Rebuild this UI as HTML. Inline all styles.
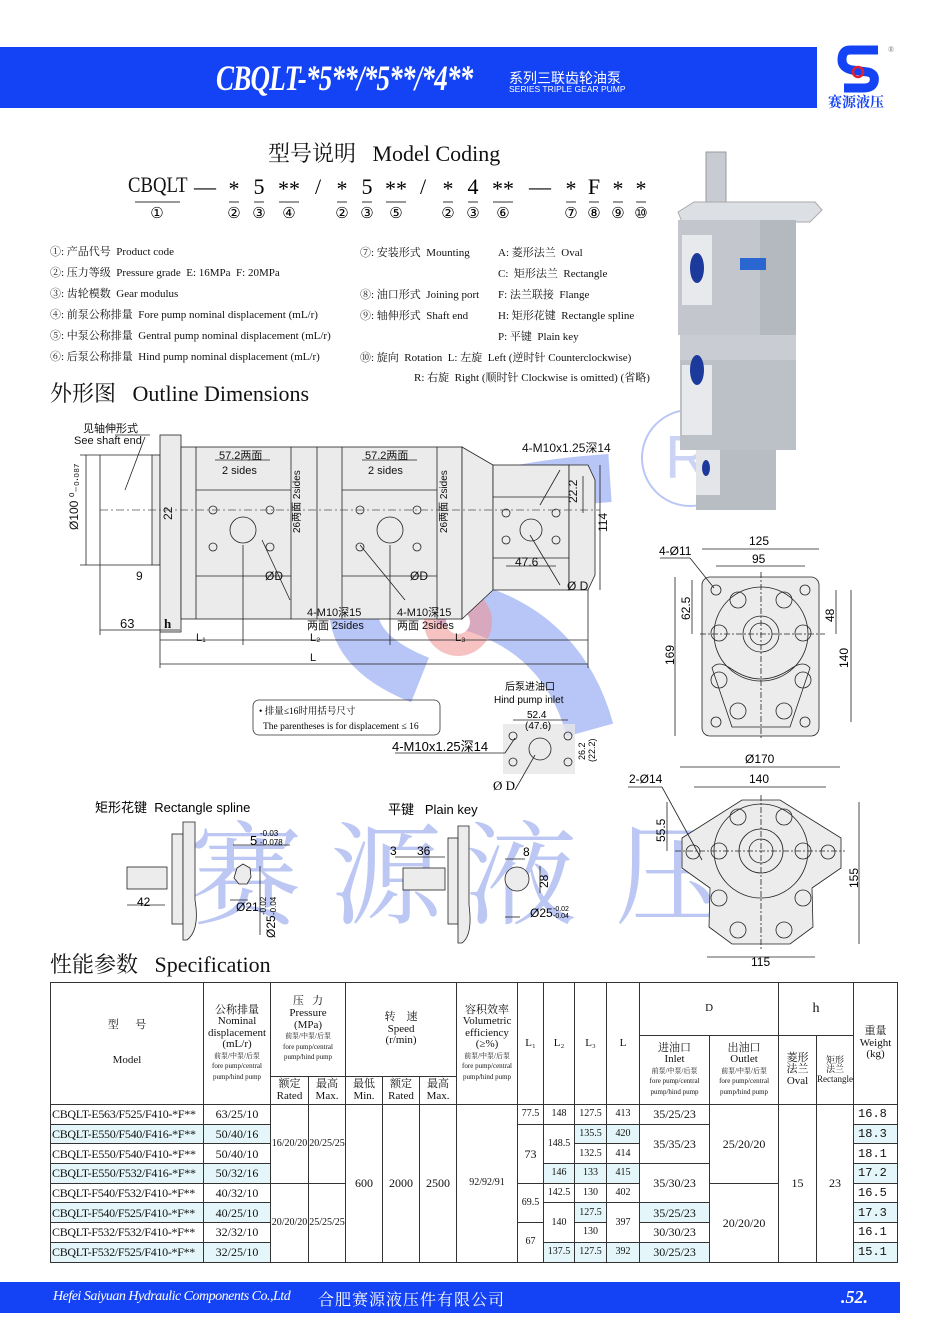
<!DOCTYPE html>
<html><head><meta charset="utf-8">
<style>
body{margin:0;background:#fff;}
#pg{position:relative;width:947px;height:1340px;overflow:hidden;background:#fff;font-family:"Liberation Serif","Noto Serif CJK SC",serif;color:#111;}
.a{position:absolute;white-space:nowrap;}
.s{font-family:"Liberation Sans","Noto Sans CJK SC",sans-serif;}
table{position:absolute;left:50px;top:982px;border-collapse:collapse;table-layout:fixed;width:847px;font-family:"Liberation Serif","Noto Serif CJK SC",serif;}
td{border:1px solid #333;padding:0;text-align:center;font-size:12px;line-height:1.05;overflow:hidden;white-space:nowrap;}
.h td{font-size:11px;}
.sm{font-size:7px;display:block;line-height:1.5;}
tr.r{height:19.7px;}
tr.r td{height:18.7px;font-size:12px;line-height:18px;}
td.m{text-align:left;font-size:10.5px;padding-left:1px;letter-spacing:-0.3px;}
td.w{font-size:15px;text-align:left;padding-left:4px;font-family:"Liberation Mono",monospace;}
.c{background:#e4f6f9;}
</style></head><body><div id="pg">

<!-- header -->
<div class="a" style="left:0;top:47px;width:817px;height:61px;background:#1443f5;"></div>
<div class="a" style="left:216px;top:57px;color:#fff;font-size:36px;font-style:italic;font-weight:bold;transform:scaleX(0.75);transform-origin:left;letter-spacing:-1px;">CBQLT-*5**/*5**/*4**</div>
<div class="a s" style="left:509px;top:68px;color:#fff;font-size:14px;">系列三联齿轮油泵</div>
<div class="a s" style="left:509px;top:84px;color:#fff;font-size:8.5px;">SERIES TRIPLE GEAR PUMP</div>
<svg class="a" style="left:830px;top:44px" width="70" height="50"><path d="M48 6 H20 Q12 6 12 16 Q12 24 22 26 L38 28 Q46 30 44 38 Q42 44 34 44 H14" fill="none" stroke="#1443f5" stroke-width="9"/><circle cx="28" cy="28" r="5" fill="none" stroke="#e02030" stroke-width="2.5"/><text x="58" y="8" font-size="8" fill="#777">®</text></svg>
<div class="a" style="left:828px;top:92px;color:#1443f5;font-size:14px;font-weight:bold;">赛源液压</div>

<!-- watermark -->
<svg class="a" style="left:0;top:0" width="947" height="1340">
<g opacity="0.33" fill="none" stroke="#2a55e8" stroke-width="48">
<path d="M610 478 Q430 490 370 560 Q320 640 420 680"/>
<path d="M440 600 Q560 620 590 730"/>
</g>
<circle cx="690" cy="458" r="48" fill="none" stroke="#8aa0f0" stroke-width="2" opacity="0.6"/>
<text x="665" y="478" font-size="60" fill="#a9b8f0" opacity="0.6" font-family="Liberation Sans">R</text>
<g fill="#f08f8f" opacity="0.55"><circle cx="458" cy="622" r="34"/></g><circle cx="458" cy="622" r="12" fill="#fff"/>
<g font-family="Noto Serif CJK SC,serif" font-size="112" fill="#bcc8f3"><text x="190" y="915">赛</text><text x="330" y="915">源</text><text x="465" y="915">液</text><text x="615" y="915">压</text></g>
</svg>

<!-- model coding -->
<div class="a" style="left:268px;top:137px;font-size:22px;">型号说明&nbsp;&nbsp;&nbsp;Model Coding</div>
<div class="a" style="left:128px;top:172px;font-size:22px;"><span style="display:inline-block;transform:scaleX(0.85);transform-origin:left">CBQLT</span></div>
<svg class="a" style="left:0;top:170px" width="680" height="55" font-family="Liberation Serif" font-size="22">
<g text-anchor="middle"><text x="205" y="24">—</text><text x="234" y="26">*</text><text x="259" y="24">5</text><text x="289" y="26">**</text><text x="318" y="24">/</text><text x="342" y="26">*</text><text x="367" y="24">5</text><text x="396" y="26">**</text><text x="423" y="24">/</text><text x="448" y="26">*</text><text x="473" y="24">4</text><text x="503" y="26">**</text><text x="540" y="24">—</text><text x="571" y="26">*</text><text x="594" y="24">F</text><text x="618" y="26">*</text><text x="641" y="26">*</text>
<g font-size="15"><text x="157" y="48">①</text><text x="234" y="48">②</text><text x="259" y="48">③</text><text x="289" y="48">④</text><text x="342" y="48">②</text><text x="367" y="48">③</text><text x="396" y="48">⑤</text><text x="448" y="48">②</text><text x="473" y="48">③</text><text x="503" y="48">⑥</text><text x="571" y="48">⑦</text><text x="594" y="48">⑧</text><text x="618" y="48">⑨</text><text x="641" y="48">⑩</text></g></g>
<g stroke="#333" stroke-width="1"><line x1="135" y1="32" x2="180" y2="32"/><line x1="229" y1="32" x2="239" y2="32"/><line x1="254" y1="32" x2="264" y2="32"/><line x1="279" y1="32" x2="299" y2="32"/><line x1="337" y1="32" x2="347" y2="32"/><line x1="362" y1="32" x2="372" y2="32"/><line x1="386" y1="32" x2="406" y2="32"/><line x1="443" y1="32" x2="453" y2="32"/><line x1="468" y1="32" x2="478" y2="32"/><line x1="493" y1="32" x2="513" y2="32"/><line x1="566" y1="32" x2="576" y2="32"/><line x1="589" y1="32" x2="599" y2="32"/><line x1="613" y1="32" x2="623" y2="32"/><line x1="636" y1="32" x2="646" y2="32"/></g>
</svg>
<div class="a" style="left:50px;top:242px;font-size:11px;line-height:21px;">①:&nbsp;产品代号&nbsp;&nbsp;Product code<br>②:&nbsp;压力等级&nbsp;&nbsp;Pressure grade&nbsp;&nbsp;E: 16MPa&nbsp;&nbsp;F: 20MPa<br>③:&nbsp;齿轮模数&nbsp;&nbsp;Gear modulus<br>④:&nbsp;前泵公称排量&nbsp;&nbsp;Fore pump nominal displacement (mL/r)<br>⑤:&nbsp;中泵公称排量&nbsp;&nbsp;Gentral pump nominal displacement (mL/r)<br>⑥:&nbsp;后泵公称排量&nbsp;&nbsp;Hind pump nominal displacement (mL/r)</div>
<div class="a" style="left:360px;top:243px;font-size:11px;line-height:21px;">⑦:&nbsp;安装形式&nbsp;&nbsp;Mounting<br><br>⑧:&nbsp;油口形式&nbsp;&nbsp;Joining port<br>⑨:&nbsp;轴伸形式&nbsp;&nbsp;Shaft end<br><br>⑩:&nbsp;旋向&nbsp;&nbsp;Rotation&nbsp;&nbsp;L:&nbsp;左旋&nbsp;&nbsp;Left (逆时针 Counterclockwise)</div>
<div class="a" style="left:498px;top:243px;font-size:11px;line-height:21px;">A:&nbsp;菱形法兰&nbsp;&nbsp;Oval<br>C:&nbsp;&nbsp;矩形法兰&nbsp;&nbsp;Rectangle<br>F:&nbsp;法兰联接&nbsp;&nbsp;Flange<br>H:&nbsp;矩形花键&nbsp;&nbsp;Rectangle spline<br>P:&nbsp;平键&nbsp;&nbsp;Plain key</div>
<div class="a" style="left:414px;top:369px;font-size:11px;">R:&nbsp;右旋&nbsp;&nbsp;Right (顺时针 Clockwise is omitted) (省略)</div>
<div class="a" style="left:50px;top:377px;font-size:22px;">外形图&nbsp;&nbsp;&nbsp;Outline Dimensions</div>

<!-- pump photo -->
<svg class="a" style="left:670px;top:150px" width="160" height="365">
<rect x="36" y="2" width="20" height="52" fill="#c8ccd2" stroke="#999"/>
<path d="M8 62 L24 52 H145 L152 60 L140 72 H12 Z" fill="#dcdfe4" stroke="#aaa"/>
<rect x="8" y="70" width="118" height="115" fill="#c3c7cd"/>
<rect x="90" y="70" width="36" height="115" fill="#b4b8bf"/>
<rect x="12" y="85" width="30" height="70" fill="#e8e9ec"/>
<ellipse cx="27" cy="118" rx="7" ry="15" fill="#1c3a9c"/>
<rect x="70" y="108" width="26" height="12" fill="#2a66d0"/>
<rect x="10" y="185" width="116" height="25" fill="#c9ccd2"/>
<rect x="10" y="210" width="116" height="90" fill="#bcc0c7"/>
<rect x="12" y="215" width="30" height="70" fill="#e8e9ec"/>
<ellipse cx="27" cy="220" rx="7" ry="15" fill="#1c3a9c"/>
<rect x="26" y="300" width="80" height="60" fill="#b8bcc3"/>
<rect x="26" y="300" width="24" height="45" fill="#e4e5e8"/>
<ellipse cx="36" cy="318" rx="4" ry="8" fill="#1c3a9c"/>
</svg>

<!-- main outline drawing -->
<svg class="a" style="left:0;top:0" width="947" height="1340" font-family="Liberation Sans,Noto Sans CJK SC,sans-serif" font-size="11" stroke-width="0.8">
<g fill="#ebebeb" stroke="#222">
<rect x="152" y="455" width="8" height="110"/>
<rect x="160" y="435" width="21" height="197"/>
<rect x="181" y="447" width="281" height="172"/>
<path d="M462 447 L493 465 V590 L462 619 Z"/>
<rect x="493" y="465" width="76" height="125"/>
<path d="M569 465 H588 L595 480 V575 L588 590 H569 Z"/>
</g>
<g stroke="#222" fill="none">
<line x1="196" y1="447" x2="196" y2="619"/><line x1="291" y1="447" x2="291" y2="619"/><line x1="317" y1="447" x2="317" y2="619"/><line x1="342" y1="447" x2="342" y2="619"/><line x1="437" y1="447" x2="437" y2="619"/>
<line x1="196" y1="490" x2="291" y2="490"/><line x1="196" y1="576" x2="291" y2="576"/><line x1="342" y1="490" x2="437" y2="490"/><line x1="342" y1="576" x2="437" y2="576"/>
<line x1="493" y1="497" x2="569" y2="497"/><line x1="493" y1="558" x2="569" y2="558"/>
<circle cx="243" cy="530" r="13"/><circle cx="390" cy="530" r="13"/><circle cx="531" cy="530" r="11"/>
<g><circle cx="213" cy="510" r="4"/><circle cx="270" cy="510" r="4"/><circle cx="213" cy="547" r="4"/><circle cx="270" cy="547" r="4"/><circle cx="360" cy="510" r="4"/><circle cx="417" cy="510" r="4"/><circle cx="360" cy="547" r="4"/><circle cx="417" cy="547" r="4"/><circle cx="506" cy="513" r="4"/><circle cx="556" cy="513" r="4"/><circle cx="506" cy="540" r="4"/><circle cx="556" cy="540" r="4"/></g>
<line x1="100" y1="510" x2="600" y2="510" stroke-dasharray="8 3 2 3" stroke="#555"/>
<line x1="160" y1="640" x2="588" y2="640"/><line x1="160" y1="664" x2="588" y2="664"/><line x1="100" y1="630" x2="180" y2="630"/>
<line x1="100" y1="455" x2="100" y2="635"/><line x1="80" y1="455" x2="152" y2="455"/><line x1="80" y1="565" x2="152" y2="565"/><line x1="86" y1="455" x2="86" y2="565"/>
<line x1="160" y1="632" x2="160" y2="668"/><line x1="243" y1="545" x2="243" y2="645"/><line x1="390" y1="545" x2="390" y2="645"/><line x1="588" y1="590" x2="588" y2="668"/>
<line x1="600" y1="465" x2="600" y2="590"/><line x1="583" y1="476" x2="583" y2="513"/>
<line x1="215" y1="460" x2="270" y2="460"/><line x1="362" y1="460" x2="417" y2="460"/><line x1="506" y1="566" x2="556" y2="566"/>
<line x1="290" y1="600" x2="262" y2="540"/><line x1="405" y1="600" x2="360" y2="545"/><line x1="560" y1="585" x2="530" y2="535"/><line x1="560" y1="470" x2="540" y2="505"/>
<line x1="115" y1="435" x2="150" y2="435"/><line x1="145" y1="437" x2="125" y2="490"/>
</g>
<g fill="#111">
<text x="83" y="432">见轴伸形式</text><text x="74" y="444">See shaft end</text>
<text x="219" y="459">57.2两面</text><text x="222" y="474">2 sides</text>
<text x="365" y="459">57.2两面</text><text x="368" y="474">2 sides</text>
<text x="522" y="452" font-size="12">4-M10x1.25深14</text>
<text x="515" y="566" font-size="12">47.6</text>
<text x="265" y="580" font-size="12">ØD</text><text x="410" y="580" font-size="12">ØD</text><text x="567" y="590" font-size="12">Ø D</text>
<text x="307" y="616">4-M10深15</text><text x="307" y="629">两面 2sides</text><text x="397" y="616">4-M10深15</text><text x="397" y="629">两面 2sides</text>
<text x="136" y="580" font-size="12">9</text><text x="120" y="628" font-size="13">63</text><text x="164" y="628" font-size="13" font-family="Liberation Serif" font-weight="bold">h</text>
<text x="196" y="641">L₁</text><text x="310" y="641">L₂</text><text x="455" y="641">L₃</text><text x="310" y="661">L</text>
<text transform="translate(78,530) rotate(-90)" font-size="12">Ø100 ⁰₋₀.₀₈₇</text>
<text transform="translate(172,520) rotate(-90)" font-size="12">22</text>
<text transform="translate(300,533) rotate(-90)" font-size="10">26两面 2sides</text>
<text transform="translate(447,533) rotate(-90)" font-size="10">26两面 2sides</text>
<text transform="translate(577,503) rotate(-90)" font-size="12">22.2</text>
<text transform="translate(607,532) rotate(-90)" font-size="12">114</text>
</g>

<!-- note box & hind inlet -->
<rect x="253" y="700" width="187" height="35" rx="6" fill="none" stroke="#333"/>
<text x="259" y="714" font-size="9.5" font-family="Liberation Serif,Noto Serif CJK SC">• 排量≤16时用括号尺寸</text>
<text x="263" y="729" font-size="9.5" font-family="Liberation Serif">The parentheses is for displacement ≤ 16</text>
<text x="505" y="690" font-size="10">后泵进油口</text><text x="494" y="703" font-size="10">Hind pump inlet</text>
<rect x="503" y="724" width="72" height="50" fill="#e6e6e6" opacity="0.8"/>
<g stroke="#222" fill="none"><circle cx="540" cy="749" r="11"/><circle cx="513" cy="736" r="4"/><circle cx="568" cy="736" r="4"/><circle cx="513" cy="762" r="4"/><circle cx="568" cy="762" r="4"/><line x1="395" y1="753" x2="505" y2="753"/><line x1="505" y1="753" x2="515" y2="738"/><line x1="515" y1="790" x2="535" y2="755"/><line x1="513" y1="720" x2="568" y2="720"/></g>
<text x="527" y="718" font-size="10">52.4</text><text x="525" y="729" font-size="10">(47.6)</text>
<text x="392" y="751" font-size="13">4-M10x1.25深14</text>
<text x="493" y="790" font-size="13" font-family="Liberation Serif">Ø D</text>
<text transform="translate(585,760) rotate(-90)" font-size="9">26.2</text><text transform="translate(595,762) rotate(-90)" font-size="9">(22.2)</text>

<!-- rectangle flange -->
<rect x="702" y="577" width="117" height="159" rx="8" fill="#ececec" stroke="#222"/>
<g stroke="#222" fill="none">
<circle cx="761" cy="634" r="47"/><circle cx="761" cy="634" r="18"/><circle cx="761" cy="634" r="11"/>
<path d="M712 668 Q718 660 730 668 Q761 690 792 668 Q804 660 810 668 L790 727 H732 Z"/>
<g><circle cx="738" cy="600" r="8"/><circle cx="784" cy="600" r="8"/><circle cx="719" cy="633" r="8"/><circle cx="803" cy="633" r="8"/><circle cx="719" cy="680" r="8"/><circle cx="803" cy="680" r="8"/><circle cx="738" cy="711" r="8"/><circle cx="784" cy="711" r="8"/><circle cx="716" cy="590" r="5"/><circle cx="805" cy="590" r="5"/><circle cx="716" cy="722" r="5"/><circle cx="805" cy="722" r="5"/></g>
<line x1="702" y1="549" x2="819" y2="549"/><line x1="716" y1="566" x2="805" y2="566"/><line x1="675" y1="577" x2="675" y2="736"/><line x1="692" y1="580" x2="692" y2="634"/><line x1="836" y1="590" x2="836" y2="634"/><line x1="851" y1="590" x2="851" y2="722"/>
<line x1="761" y1="572" x2="761" y2="740" stroke-dasharray="6 2 2 2"/><line x1="700" y1="634" x2="825" y2="634" stroke-dasharray="6 2 2 2"/>
<line x1="660" y1="558" x2="690" y2="558"/><line x1="690" y1="558" x2="714" y2="588"/>
</g>
<text x="749" y="545" font-size="12">125</text><text x="752" y="563" font-size="12">95</text><text x="659" y="555" font-size="12">4-Ø11</text>
<text transform="translate(690,620) rotate(-90)" font-size="12">62.5</text><text transform="translate(834,622) rotate(-90)" font-size="12">48</text>
<text transform="translate(674,665) rotate(-90)" font-size="12">169</text><text transform="translate(848,668) rotate(-90)" font-size="12">140</text>

<!-- round/oval flange -->
<g stroke="#222"><path d="M682 838 L742 800 H780 L841 838 V868 L812 888 L813 927 L790 944 H732 L709 927 L710 888 L682 868 Z" fill="#ececec"/>
<g fill="none"><circle cx="761" cy="851" r="47"/><circle cx="761" cy="851" r="22"/><circle cx="761" cy="851" r="12"/>
<g><circle cx="738" cy="817" r="8"/><circle cx="784" cy="817" r="8"/><circle cx="719" cy="851" r="8"/><circle cx="803" cy="851" r="8"/><circle cx="719" cy="898" r="8"/><circle cx="803" cy="898" r="8"/><circle cx="738" cy="930" r="8"/><circle cx="784" cy="930" r="8"/><circle cx="693" cy="852" r="7"/><circle cx="828" cy="852" r="7"/></g>
<line x1="680" y1="767" x2="840" y2="767"/><line x1="694" y1="787" x2="826" y2="787"/><line x1="707" y1="957" x2="815" y2="957"/><line x1="859" y1="802" x2="859" y2="944"/><line x1="667" y1="802" x2="667" y2="851"/>
<line x1="761" y1="795" x2="761" y2="950" stroke-dasharray="6 2 2 2"/><line x1="675" y1="851" x2="845" y2="851" stroke-dasharray="6 2 2 2"/>
<line x1="628" y1="787" x2="662" y2="787"/><line x1="662" y1="787" x2="702" y2="860"/></g></g>
<text x="745" y="763" font-size="12">Ø170</text><text x="749" y="783" font-size="12">140</text><text x="629" y="783" font-size="12">2-Ø14</text><text x="751" y="966" font-size="12">115</text>
<text transform="translate(665,842) rotate(-90)" font-size="12">55.5</text><text transform="translate(858,888) rotate(-90)" font-size="12">155</text>

<!-- shaft ends -->
<text x="95" y="812" font-size="13">矩形花键&nbsp;&nbsp;Rectangle spline</text>
<text x="388" y="814" font-size="13">平键&nbsp;&nbsp;&nbsp;Plain key</text>
<g stroke="#222" fill="#ececec">
<rect x="127" y="867" width="40" height="22"/><rect x="172" y="834" width="11" height="90"/><path d="M183 822 H195 V900 Q200 930 187 940 H183 Z"/>
<rect x="403" y="868" width="42" height="22"/><rect x="448" y="838" width="10" height="86"/><path d="M458 826 H469 V905 Q473 935 462 943 H458 Z"/>
<circle cx="517" cy="879" r="12"/><path d="M237 868 L243 864 L250 868 L251 877 L247 884 L239 884 L234 878 Z"/>
</g>
<g stroke="#222" fill="none"><line x1="127" y1="905" x2="165" y2="905"/><line x1="233" y1="845" x2="290" y2="845"/><line x1="230" y1="900" x2="248" y2="900"/><line x1="260" y1="866" x2="260" y2="935"/><line x1="395" y1="857" x2="445" y2="857"/><line x1="505" y1="859" x2="525" y2="859"/><line x1="540" y1="866" x2="540" y2="893"/><line x1="505" y1="917" x2="520" y2="917"/></g>
<text x="137" y="906" font-size="12">42</text><text x="250" y="845" font-size="13">5</text><text x="260" y="836" font-size="8">-0.03</text><text x="260" y="845" font-size="8">-0.078</text>
<text x="236" y="911" font-size="12">Ø21</text><text transform="translate(275,938) rotate(-90)" font-size="12">Ø25</text><text transform="translate(266,915) rotate(-90)" font-size="8">-0.02</text><text transform="translate(276,915) rotate(-90)" font-size="8">-0.04</text>
<text x="390" y="855" font-size="12">3</text><text x="417" y="855" font-size="12">36</text><text x="523" y="856" font-size="12">8</text>
<text transform="translate(548,888) rotate(-90)" font-size="12">28</text><text x="530" y="917" font-size="12">Ø25</text><text x="553" y="911" font-size="7">-0.02</text><text x="553" y="918" font-size="7">-0.04</text>
</svg>

<div class="a" style="left:50px;top:948px;font-size:22px;">性能参数&nbsp;&nbsp;&nbsp;Specification</div>

<table>
<colgroup><col style="width:153px"><col style="width:67px"><col style="width:38px"><col style="width:37px"><col style="width:37px"><col style="width:37px"><col style="width:37px"><col style="width:61px"><col style="width:26px"><col style="width:31px"><col style="width:32px"><col style="width:33px"><col style="width:70px"><col style="width:69px"><col style="width:38px"><col style="width:37px"><col style="width:44px"></colgroup>
<tr class="h" style="height:53px"><td rowspan="3">型&nbsp;&nbsp;&nbsp;&nbsp;&nbsp;&nbsp;号<br><br><br>Model</td><td rowspan="3">公称排量<br>Nominal<br>displacement<br>(mL/r)<span class="sm">前泵/中泵/后泵<br>fore pump/central<br>pump/hind pump</span></td><td rowspan="2" colspan="2">压&nbsp;&nbsp;&nbsp;力<br>Pressure<br>(MPa)<span class="sm">前泵/中泵/后泵<br>fore pump/central<br>pump/hind pump</span></td><td rowspan="2" colspan="3">转&nbsp;&nbsp;&nbsp;&nbsp;速<br>Speed<br>(r/min)</td><td rowspan="3">容积效率<br>Volumetric<br>efficiency<br>(≥%)<span class="sm">前泵/中泵/后泵<br>fore pump/central<br>pump/hind pump</span></td><td rowspan="3">L₁</td><td rowspan="3">L₂</td><td rowspan="3">L₃</td><td rowspan="3">L</td><td colspan="2">D</td><td colspan="2" style="font-size:14px">h</td><td rowspan="3">重量<br>Weight<br>(kg)</td></tr>
<tr class="h" style="height:41px"><td rowspan="2">进油口<br>Inlet<span class="sm">前泵/中泵/后泵<br>fore pump/central<br>pump/hind pump</span></td><td rowspan="2">出油口<br>Outlet<span class="sm">前泵/中泵/后泵<br>fore pump/central<br>pump/hind pump</span></td><td rowspan="2">菱形<br>法兰<br>Oval</td><td rowspan="2" style="font-size:9px">矩形<br>法兰<br>Rectangle</td></tr>
<tr class="h" style="height:28px"><td>额定<br>Rated</td><td>最高<br>Max.</td><td>最低<br>Min.</td><td>额定<br>Rated</td><td>最高<br>Max.</td></tr>
<tr class="r"><td class="m">CBQLT-E563/F525/F410-*F**</td><td>63/25/10</td><td rowspan="4" style="font-size:10px">16/20/20</td><td rowspan="4" style="font-size:10px">20/25/25</td><td rowspan="8">600</td><td rowspan="8">2000</td><td rowspan="8">2500</td><td rowspan="8" style="font-size:10px">92/92/91</td><td style="font-size:10px">77.5</td><td style="font-size:10px">148</td><td style="font-size:10px">127.5</td><td style="font-size:10px">413</td><td>35/25/23</td><td rowspan="4">25/20/20</td><td rowspan="8">15</td><td rowspan="8">23</td><td class="w">16.8</td></tr>
<tr class="r"><td class="m c">CBQLT-E550/F540/F416-*F**</td><td class="c">50/40/16</td><td rowspan="3">73</td><td rowspan="2" style="font-size:10px">148.5</td><td class="c" style="font-size:10px">135.5</td><td class="c" style="font-size:10px">420</td><td rowspan="2">35/35/23</td><td class="w c">18.3</td></tr>
<tr class="r"><td class="m">CBQLT-E550/F540/F410-*F**</td><td>50/40/10</td><td style="font-size:10px">132.5</td><td style="font-size:10px">414</td><td class="w">18.1</td></tr>
<tr class="r"><td class="m c">CBQLT-E550/F532/F416-*F**</td><td class="c">50/32/16</td><td class="c" style="font-size:10px">146</td><td class="c" style="font-size:10px">133</td><td class="c" style="font-size:10px">415</td><td rowspan="2">35/30/23</td><td class="w c">17.2</td></tr>
<tr class="r"><td class="m">CBQLT-F540/F532/F410-*F**</td><td>40/32/10</td><td rowspan="4" style="font-size:10px">20/20/20</td><td rowspan="4" style="font-size:10px">25/25/25</td><td rowspan="2" style="font-size:10px">69.5</td><td style="font-size:10px">142.5</td><td style="font-size:10px">130</td><td style="font-size:10px">402</td><td rowspan="4">20/20/20</td><td class="w">16.5</td></tr>
<tr class="r"><td class="m c">CBQLT-F540/F525/F410-*F**</td><td class="c">40/25/10</td><td rowspan="2" style="font-size:10px">140</td><td class="c" style="font-size:10px">127.5</td><td rowspan="2" style="font-size:10px">397</td><td class="c">35/25/23</td><td class="w c">17.3</td></tr>
<tr class="r"><td class="m">CBQLT-F532/F532/F410-*F**</td><td>32/32/10</td><td rowspan="2" style="font-size:10px">67</td><td style="font-size:10px">130</td><td>30/30/23</td><td class="w">16.1</td></tr>
<tr class="r"><td class="m c">CBQLT-F532/F525/F410-*F**</td><td class="c">32/25/10</td><td class="c" style="font-size:10px">137.5</td><td class="c" style="font-size:10px">127.5</td><td class="c" style="font-size:10px">392</td><td class="c">30/25/23</td><td class="w c">15.1</td></tr>
</table>

<!-- footer -->
<div class="a" style="left:0;top:1282px;width:900px;height:31px;background:#1443f5;"></div>
<div class="a" style="left:53px;top:1289px;color:#fff;font-size:14px;font-style:italic;letter-spacing:-0.5px;">Hefei Saiyuan Hydraulic Components Co.,Ltd</div>
<div class="a" style="left:318px;top:1287px;color:#fff;font-size:16px;letter-spacing:1px;">合肥赛源液压件有限公司</div>
<div class="a" style="left:841px;top:1287px;color:#fff;font-size:18px;font-weight:bold;font-style:italic;">.52.</div>
</div></body></html>
